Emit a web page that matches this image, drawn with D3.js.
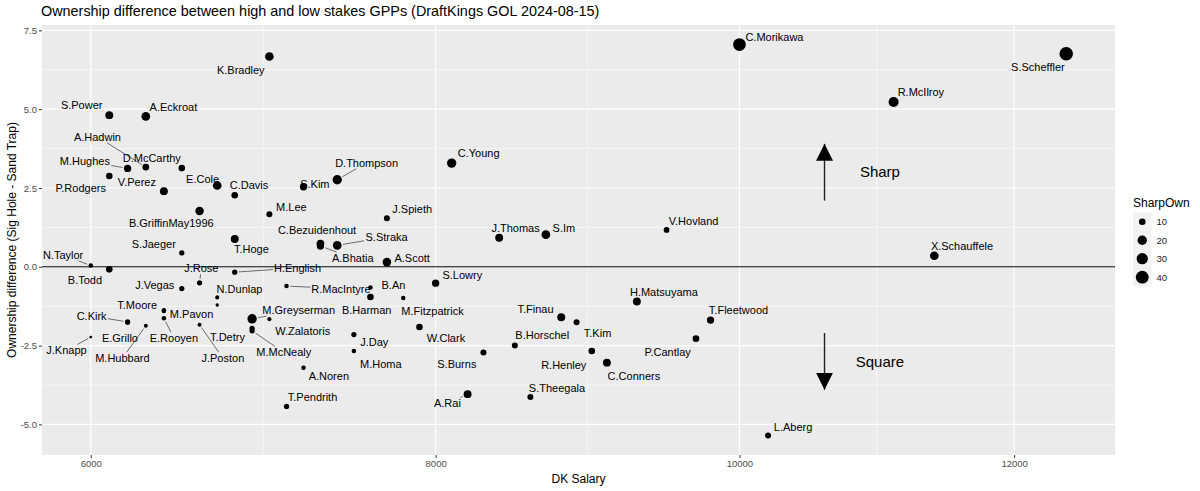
<!DOCTYPE html>
<meta charset="utf-8">
<style>
body{margin:0;background:#fff;}
text{font-family:"Liberation Sans",Arial,sans-serif;}
</style>
<body>
<div id="chart"></div>
<script src="https://d3js.org/d3.v7.min.js"></script>
<script>

// data
var players=["S.Scheffler","C.Morikawa","R.McIlroy","X.Schauffele","L.Aberg","T.Fleetwood","P.Cantlay","V.Hovland",
"H.Matsuyama","C.Conners","R.Henley","T.Kim","T.Finau","S.Im","S.Theegala","B.Horschel","J.Thomas","S.Burns","A.Rai",
"C.Young","S.Lowry","W.Clark","M.Fitzpatrick","J.Spieth","A.Scott","B.An","B.Harman","J.Day","M.Homa","D.Thompson",
"S.Straka","C.Bezuidenhout","A.Bhatia","S.Kim","A.Noren","T.Pendrith","R.MacIntyre","K.Bradley","M.Lee","W.Zalatoris",
"M.Greyserman","T.Detry","M.McNealy","C.Davis","T.Hoge","H.English","E.Cole","N.Dunlap","","B.GriffinMay1996","J.Rose",
"J.Poston","D.McCarthy","S.Jaeger","J.Vegas","V.Perez","T.Moore","M.Pavon","E.Rooyen","A.Eckroat","A.Hadwin","M.Hubbard",
"M.Hughes","C.Kirk","E.Grillo","S.Power","P.Rodgers","B.Todd","N.Taylor","J.Knapp"];
var salary=[12400,10000,11100,11400,10200,9800,9700,9500,
9300,9100,9000,8900,8800,8700,8600,8500,8400,8300,8200,
8100,8000,7900,7800,7700,7700,7600,7600,7500,7500,7400,
7400,7300,7300,7200,7200,7100,7100,7000,7000,7000,
6900,6900,6900,6800,6800,6800,6700,6700,6700,6600,6600,
6600,6500,6500,6500,6400,6400,6400,6400,6300,6300,6300,
6200,6200,6200,6100,6100,6100,6000,6000];
var ownDiff=[6.76,7.05,5.23,0.35,-5.35,-1.69,-2.28,1.17,
-1.10,-3.04,-2.67,-1.76,-1.60,1.02,-4.13,-2.50,0.92,-2.72,-4.04,
3.29,-0.52,-1.91,-0.99,1.54,0.15,-0.66,-0.96,-2.15,-2.67,2.76,
0.68,0.74,0.66,2.54,-3.20,-4.43,-0.61,6.67,1.67,-1.66,
-1.65,-1.95,-2.03,2.27,0.88,-0.17,2.58,-0.97,-1.21,1.77,-0.51,
-1.84,3.13,0.44,-0.69,2.40,-1.40,-1.38,-1.63,4.77,3.16,-1.87,
3.12,-1.75,-1.77,4.81,2.88,-0.08,0.04,-2.23];
var sharpOwn=[45,39,23,17,8.5,12,10,8,
14,14,10,8.5,14,17,8.5,8.5,14,8.5,14,
20,12,10,6,8.5,17,6,10,7,6,20,
17,13,12,12,6,7,6,17,8.5,5.5,
20,7,7,10,14,7,17,5.5,5.1,16,7,
5.5,10,7,7,14,6,6,6,17,10,5.5,
12,7,6,14,10,10,6,5];

var xTicks=[6000,8000,10000,12000];
var yTicks=[-5,-2.5,0,2.5,5,7.5];
var legendValues=[10,20,30,40];

// the two annotations
var noteText=["Sharp","Square"];
var noteX=[11000,11000];
var noteY=[3,-3];
var arrowX=[10600,10600];
var arrowFrom=[2.1,-2.1];
var arrowTo=[3.9,-3.9];

// where the repelled labels ended up, pixels from their point
var labelPos={
"S.Scheffler":[-28.3,13.6],"C.Morikawa":[35,-7.3],"R.McIlroy":[27.3,-9.4],"X.Schauffele":[27.7,-9.3],
"L.Aberg":[25,-8.6],"T.Fleetwood":[28,-10],"P.Cantlay":[-28.3,13],"V.Hovland":[27,-9],
"H.Matsuyama":[27,-9.7],"C.Conners":[27,13.2],"R.Henley":[-28,14],"T.Kim":[21,10.4],"T.Finau":[-25.7,-8.3],
"S.Im":[18,-6],"S.Theegala":[26.6,-9.3],"B.Horschel":[27.4,-10.7],"J.Thomas":[16.4,-10],"S.Burns":[-26.6,11.5],
"A.Rai":[-20.2,9.3],"C.Young":[27,-10],"S.Lowry":[26.7,-8],"W.Clark":[26.4,10.7],"M.Fitzpatrick":[29.3,12.7],
"J.Spieth":[25.3,-9.4],"A.Scott":[25.3,-4],"B.An":[23,-2.7],"B.Harman":[-3.7,13],"J.Day":[20.3,8],
"M.Homa":[27,12.7],"D.Thompson":[29.4,-17],"S.Straka":[49.4,-8.4],"C.Bezuidenhout":[-3.4,-13],
"A.Bhatia":[32.3,12],"S.Kim":[11.3,-2.3],"A.Noren":[25.3,8],"T.Pendrith":[26,-9.5],"R.MacIntyre":[54.4,2.7],
"K.Bradley":[-28.6,13.4],"M.Lee":[22,-7.4],"W.Zalatoris":[33.3,11.7],"M.Greyserman":[46.6,-8.7],
"T.Detry":[-24.6,8.4],"M.McNealy":[31.7,21.7],"C.Davis":[14.3,-10],"T.Hoge":[16.7,10],"H.English":[62.8,-4.2],
"E.Cole":[-14.6,-6],"N.Dunlap":[22.3,-8.7],"B.GriffinMay1996":[-28.3,12.5],"J.Rose":[1.7,-14.7],
"J.Poston":[23.3,33.3],"D.McCarthy":[-30,-9.7],"S.Jaeger":[-28,-8.3],"J.Vegas":[-27,-3.4],"V.Perez":[-27,-9.4],
"T.Moore":[-26.7,-5.3],"M.Pavon":[27.7,4.3],"E.Rooyen":[10,20],"A.Eckroat":[27.6,-9.7],"A.Hadwin":[-48.4,-30.4],
"M.Hubbard":[-23.4,32.3],"M.Hughes":[-42.7,-7.7],"C.Kirk":[-36,-6],"E.Grillo":[-7.7,15.3],"S.Power":[-27.6,-10],
"P.Rodgers":[-28.6,12.6],"B.Todd":[-24.3,10.6],"N.Taylor":[-27.7,-10.7],"J.Knapp":[-24.3,13.4]
};
var withSegment=["A.Hadwin","M.Hughes","D.Thompson","N.Taylor","J.Rose","H.English","C.Kirk","M.Hubbard",
"E.Rooyen","J.Knapp","J.Poston","M.Greyserman","M.McNealy","S.Straka","A.Bhatia","R.MacIntyre","A.Rai","S.Im"];

var data=players.map(function(p,i){
  return {name:p, salary:salary[i], diff:ownDiff[i], own:sharpOwn[i]};
});

var W=1200, H=491;
var pL=42, pR=1115, pT=25, pB=455;

var svg=d3.select("#chart").append("svg").attr("width",W).attr("height",H);

// sqrt x axis, 5% expansion done in sqrt space like ggplot
var sLo=Math.sqrt(d3.min(salary)), sHi=Math.sqrt(d3.max(salary)), sPad=0.05*(sHi-sLo);
var x=d3.scaleSqrt().domain([Math.pow(sLo-sPad,2),Math.pow(sHi+sPad,2)]).range([pL,pR]);
var yLo=d3.min(ownDiff), yHi=d3.max(ownDiff), yPad=0.05*(yHi-yLo);
var y=d3.scaleLinear().domain([yLo-yPad,yHi+yPad]).range([pB,pT]);

// area size scale: size 1..6 then to pixel diameter
var own01=d3.scaleLinear().domain(d3.extent(sharpOwn)).range([0,1]).clamp(true);
function diam(v){
  var s=1+5*Math.sqrt(own01(v));
  return 0.75*(2.845*s+0.945);
}

svg.append("rect").attr("x",pL).attr("y",pT).attr("width",pR-pL).attr("height",pB-pT).attr("fill","#EBEBEB");

// minor grid = midpoints of majors in transformed space
var xMinor=[];
for(var i=0;i<xTicks.length-1;i++){
  xMinor.push(Math.pow((Math.sqrt(xTicks[i])+Math.sqrt(xTicks[i+1]))/2,2));
}
var yMinor=[];
for(var i=0;i<yTicks.length-1;i++) yMinor.push((yTicks[i]+yTicks[i+1])/2);

var grid=svg.append("g");
grid.selectAll(".xmin").data(xMinor).enter().append("line")
  .attr("x1",d=>x(d)).attr("x2",d=>x(d)).attr("y1",pT).attr("y2",pB)
  .attr("stroke","#fff").attr("stroke-width",0.55);
grid.selectAll(".ymin").data(yMinor).enter().append("line")
  .attr("y1",d=>y(d)).attr("y2",d=>y(d)).attr("x1",pL).attr("x2",pR)
  .attr("stroke","#fff").attr("stroke-width",0.55);
grid.selectAll(".xmaj").data(xTicks).enter().append("line")
  .attr("x1",d=>x(d)).attr("x2",d=>x(d)).attr("y1",pT).attr("y2",pB)
  .attr("stroke","#fff").attr("stroke-width",1.1);
grid.selectAll(".ymaj").data(yTicks).enter().append("line")
  .attr("y1",d=>y(d)).attr("y2",d=>y(d)).attr("x1",pL).attr("x2",pR)
  .attr("stroke","#fff").attr("stroke-width",1.1);

// zero line
svg.append("line").attr("x1",pL).attr("x2",pR).attr("y1",y(0)).attr("y2",y(0))
  .attr("stroke","#000").attr("stroke-width",1);

// axes
var fmtY=function(d){ return d3.format(".1f")(d).replace("\u2212","-"); };
var xAxis=svg.append("g").attr("transform","translate(0,"+pB+")")
  .call(d3.axisBottom(x).tickValues(xTicks).tickFormat(d3.format("d")).tickSize(3).tickPadding(2));
var yAxis=svg.append("g").attr("transform","translate("+pL+",0)")
  .call(d3.axisLeft(y).tickValues(yTicks).tickFormat(fmtY).tickSize(3).tickPadding(2));
[xAxis,yAxis].forEach(function(a){
  a.select(".domain").remove();
  a.selectAll(".tick line").attr("stroke","#333");
  a.selectAll(".tick text").attr("fill","#4d4d4d").style("font-size","9.5px")
    .style("font-family","'Liberation Sans',Arial,sans-serif");
});

// arrows
var defs=svg.append("defs");
defs.append("marker").attr("id","head").attr("viewBox","0 0 10 10")
  .attr("refX",10).attr("refY",5).attr("markerUnits","userSpaceOnUse")
  .attr("markerWidth",17).attr("markerHeight",19).attr("orient","auto")
  .append("path").attr("d","M0,0L10,5L0,10Z").attr("fill","#000");
arrowX.forEach(function(ax,i){
  svg.append("line").attr("x1",x(ax)).attr("x2",x(ax))
    .attr("y1",y(arrowFrom[i])).attr("y2",y(arrowTo[i]))
    .attr("stroke","#222").attr("stroke-width",1.4).attr("marker-end","url(#head)");
});
noteText.forEach(function(t,i){
  svg.append("text").attr("x",x(noteX[i])).attr("y",y(noteY[i])).attr("dy","0.35em")
    .attr("text-anchor","middle").style("font-size","15px").attr("fill","#000").text(t);
});

// points
svg.append("g").selectAll("circle").data(data).enter().append("circle")
  .attr("cx",d=>x(d.salary)).attr("cy",d=>y(d.diff)).attr("r",d=>diam(d.own)/2)
  .attr("fill","#000");

// labels and their segments
var segG=svg.append("g"), labG=svg.append("g");
data.forEach(function(d){
  if(!d.name || !labelPos[d.name]) return;
  var px=x(d.salary), py=y(d.diff);
  var cx=px+labelPos[d.name][0], cy=py+labelPos[d.name][1];
  var t=labG.append("text").attr("x",cx).attr("y",cy).attr("dy","0.35em")
    .attr("text-anchor","middle").style("font-size","11px").attr("fill","#000").text(d.name);
  if(withSegment.indexOf(d.name)<0) return;
  var bb=t.node().getBBox();
  var hw=bb.width/2+1, hh=bb.height/2;
  var dx=px-cx, dy=py-cy;
  var k=Math.min(dx?hw/Math.abs(dx):1e9, dy?hh/Math.abs(dy):1e9);
  if(k>=1) return;
  var ex=cx+k*dx, ey=cy+k*dy;
  var len=Math.hypot(px-ex,py-ey), r=diam(d.own)/2+1.5;
  if(len<=r) return;
  var sx=px+(ex-px)*r/len, sy=py+(ey-py)*r/len;
  segG.append("line").attr("x1",sx).attr("y1",sy).attr("x2",ex).attr("y2",ey)
    .attr("stroke","#333").attr("stroke-width",0.7);
});

// titles
svg.append("text").attr("x",pL-1).attr("y",16).style("font-size","14.4px").attr("fill","#000")
  .text("Ownership difference between high and low stakes GPPs (DraftKings GOL 2024-08-15)");
svg.append("text").attr("x",(pL+pR)/2).attr("y",483).attr("text-anchor","middle")
  .style("font-size","12px").attr("fill","#000").text("DK Salary");
svg.append("text").attr("transform","translate(16,"+((pT+pB)/2)+") rotate(-90)")
  .attr("text-anchor","middle").style("font-size","12px").attr("fill","#000")
  .text("Ownership difference (Sig Hole - Sand Trap)");

// size legend
var lg=svg.append("g").attr("transform","translate(1133,0)");
lg.append("text").attr("x",0).attr("y",207).style("font-size","12px").attr("fill","#000").text("SharpOwn");
legendValues.forEach(function(v,i){
  var cy=221.7+18.5*i;
  lg.append("rect").attr("x",0).attr("y",cy-9.25).attr("width",18.5).attr("height",18.5).attr("fill","#F2F2F2");
  lg.append("circle").attr("cx",9.25).attr("cy",cy).attr("r",diam(v)/2).attr("fill","#000");
  lg.append("text").attr("x",23.5).attr("y",cy).attr("dy","0.35em").style("font-size","9.5px")
    .attr("fill","#1a1a1a").text(v);
});

</script>
</body>
